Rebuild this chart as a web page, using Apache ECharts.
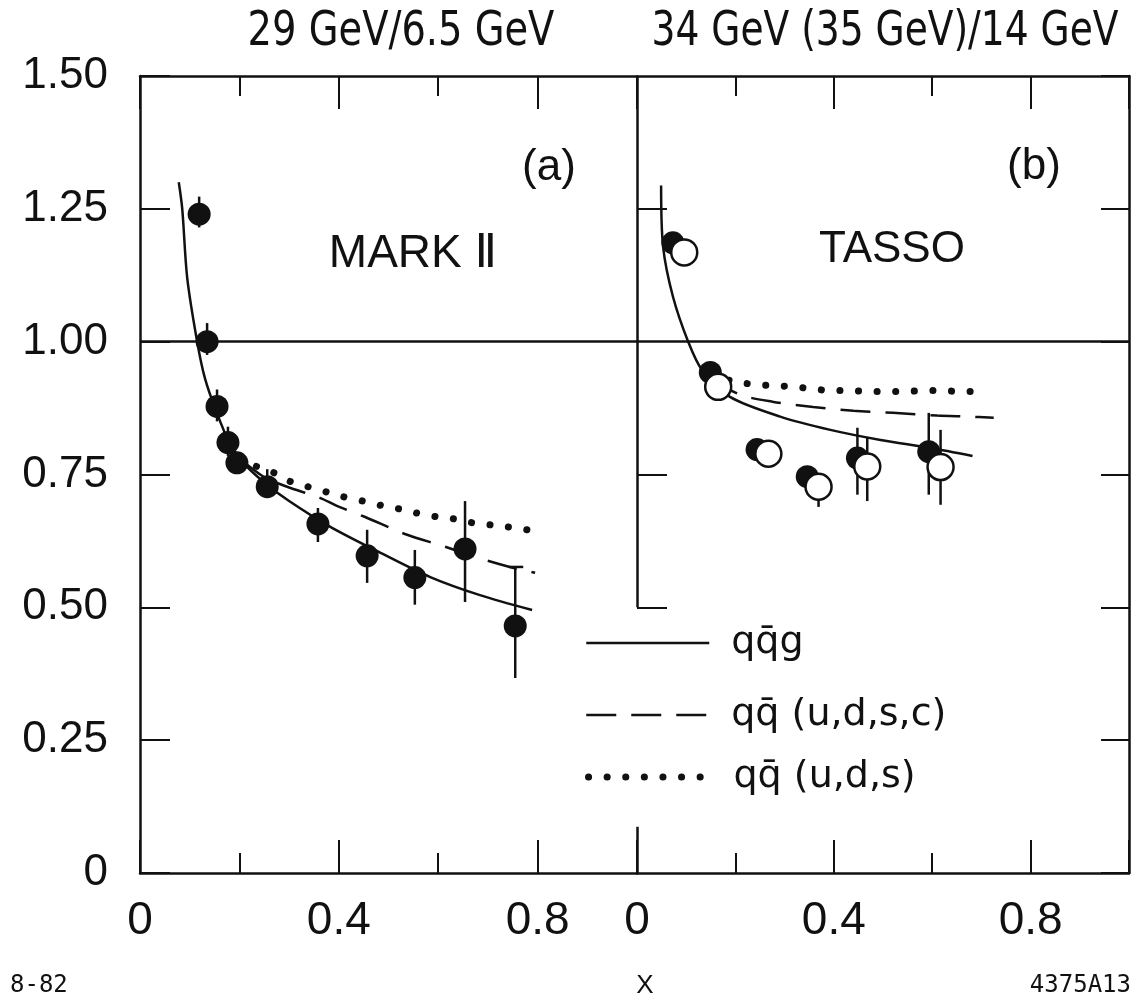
<!DOCTYPE html>
<html><head><meta charset="utf-8">
<script src="https://cdn.jsdelivr.net/npm/echarts@6/dist/echarts.min.js"></script>
<style>html,body{margin:0;padding:0;background:#fff}#c{width:1137px;height:1004px}</style>
</head><body><div id="c"></div>
<script>
// ---------- tick labels ----------
const yTickValues = [0, 0.25, 0.5, 0.75, 1.0, 1.25, 1.5];
const yTickLabels = ['0', '0.25', '0.50', '0.75', '1.00', '1.25', '1.50'];
const xTickValues = [0, 0.4, 0.8];
const xTickLabels = ['0', '0.4', '0.8'];
const dividerTickValues = [0.5, 0.75, 1.25];

// ---------- texts ----------
const panelTitles = ['29 GeV/6.5 GeV', '34 GeV (35 GeV)/14 GeV'];
const panelTags = ['(a)', '(b)'];
const experiments = ['MARK \u2161', 'TASSO'];
const legendNames = ['qq\u0304g', 'qq\u0304 (u,d,s,c)', 'qq\u0304 (u,d,s)'];

// ---------- MARK II (panel a) ----------
const markX  = [0.119, 0.135, 0.155, 0.177, 0.195, 0.256, 0.358, 0.457, 0.553, 0.654, 0.755];
const markY  = [1.24, 1.00, 0.878, 0.81, 0.772, 0.727, 0.657, 0.597, 0.556, 0.61, 0.465];
const markLo = [1.215, 0.975, 0.85, 0.785, 0.755, 0.71, 0.623, 0.546, 0.505, 0.51, 0.367];
const markHi = [1.273, 1.035, 0.91, 0.84, 0.79, 0.76, 0.687, 0.646, 0.608, 0.70, 0.576];
const markCap = [0, 0, 0, 0, 0, 0, 0, 0, 0, 0, 1];

const aQqgX = [0.078, 0.085, 0.095, 0.115, 0.131, 0.155, 0.18, 0.21, 0.25, 0.30, 0.382, 0.483, 0.584, 0.684, 0.789];
const aQqgY = [1.30, 1.25, 1.12, 1.00, 0.93, 0.865, 0.81, 0.77, 0.735, 0.70, 0.652, 0.603, 0.557, 0.523, 0.495];
const aUdscX = [0.20, 0.25, 0.296, 0.362, 0.396, 0.453, 0.533, 0.614, 0.674, 0.744, 0.795];
const aUdscY = [0.78, 0.745, 0.727, 0.706, 0.691, 0.67, 0.638, 0.614, 0.595, 0.576, 0.565];
const aUdsX = [0.20, 0.235, 0.27, 0.302, 0.338, 0.376, 0.41, 0.453, 0.489, 0.523, 0.559, 0.60, 0.636, 0.67, 0.708, 0.742, 0.779];
const aUdsY = [0.78, 0.765, 0.753, 0.737, 0.727, 0.717, 0.708, 0.699, 0.691, 0.685, 0.677, 0.67, 0.666, 0.659, 0.655, 0.651, 0.646];

// ---------- TASSO (panel b) ----------
const t34X  = [0.073, 0.149, 0.244, 0.346, 0.448, 0.593];
const t34Y  = [1.186, 0.942, 0.797, 0.746, 0.781, 0.793];
const t34Lo = [1.17, 0.925, 0.785, 0.73, 0.712, 0.712];
const t34Hi = [1.20, 0.955, 0.81, 0.76, 0.838, 0.866];
const t35X  = [0.096, 0.165, 0.267, 0.369, 0.468, 0.617];
const t35Y  = [1.168, 0.915, 0.789, 0.727, 0.765, 0.764];
const t35Lo = [1.15, 0.90, 0.775, 0.689, 0.70, 0.693];
const t35Hi = [1.185, 0.93, 0.805, 0.75, 0.819, 0.834];

const bQqgX = [0.049, 0.053, 0.073, 0.104, 0.132, 0.189, 0.291, 0.393, 0.495, 0.597, 0.682];
const bQqgY = [1.294, 1.179, 1.085, 1.00, 0.947, 0.896, 0.859, 0.834, 0.815, 0.80, 0.785];
const bUdscX = [0.15, 0.21, 0.275, 0.358, 0.44, 0.52, 0.61, 0.672, 0.725];
const bUdscY = [0.93, 0.90, 0.887, 0.877, 0.87, 0.866, 0.861, 0.859, 0.857];
const bUdsX = [0.15, 0.21, 0.246, 0.285, 0.32, 0.358, 0.395, 0.434, 0.47, 0.509, 0.546, 0.582, 0.621, 0.656, 0.695];
const bUdsY = [0.935, 0.923, 0.919, 0.917, 0.915, 0.911, 0.908, 0.908, 0.906, 0.906, 0.906, 0.908, 0.908, 0.906, 0.906];

// ---------- helpers ----------
const zip = (xs, ys) => xs.map((x, i) => [x, ys[i]]);
const zipErr = (xs, lo, hi, cap) => xs.map((x, i) => [x, lo[i], hi[i], cap ? cap[i] : 0]);
const BLACK = '#111';
const LW = 2.5;
const AXFONT = '"Liberation Sans", "DejaVu Sans", sans-serif';
const TXFONT = '"Liberation Sans", "DejaVu Sans", sans-serif';

function errRender(params, api) {
  const x = api.value(0), lo = api.value(1), hi = api.value(2), cap = api.value(3);
  const p1 = api.coord([x, lo]), p2 = api.coord([x, hi]);
  const children = [{ type: 'line', shape: { x1: p1[0], y1: p1[1], x2: p2[0], y2: p2[1] },
    style: { stroke: BLACK, lineWidth: LW } }];
  if (cap) children.push({ type: 'line', shape: { x1: p2[0] - 6, y1: p2[1], x2: p2[0] + 8, y2: p2[1] },
    style: { stroke: BLACK, lineWidth: LW } });
  return { type: 'group', children };
}

function xAxes(g) {
  const line = { show: true, onZero: false, lineStyle: { color: BLACK, width: LW } };
  const noLine = { show: false, onZero: false };
  const base = { gridIndex: g, type: 'value', min: 0, max: 1, splitLine: { show: false } };
  return [
    Object.assign({}, base, { position: 'bottom', interval: 0.4, axisLine: line,
      axisTick: { show: true, inside: true, length: 33, lineStyle: { color: BLACK, width: 2 } },
      axisLabel: { show: true, margin: 25, fontSize: 46, color: BLACK, fontFamily: AXFONT,
        formatter: v => { const i = xTickValues.findIndex(t => Math.abs(t - v) < 1e-6); return i >= 0 ? xTickLabels[i] : ''; } } }),
    Object.assign({}, base, { position: 'bottom', interval: 0.2, axisLine: noLine,
      axisTick: { show: true, inside: true, length: 20, lineStyle: { color: BLACK, width: 2 } },
      axisLabel: { show: false } }),
    Object.assign({}, base, { position: 'top', interval: 0.4, axisLine: line,
      axisTick: { show: true, inside: true, length: 33, lineStyle: { color: BLACK, width: 2 } },
      axisLabel: { show: false } }),
    Object.assign({}, base, { position: 'top', interval: 0.2, axisLine: noLine,
      axisTick: { show: true, inside: true, length: 20, lineStyle: { color: BLACK, width: 2 } },
      axisLabel: { show: false } })
  ];
}

const yBase = { type: 'value', min: 0, max: 1.5, interval: 0.25, splitLine: { show: false } };
const titleFont = '48px "Liberation Sans Narrow", "DejaVu Sans Condensed", "DejaVu Sans", sans-serif';

const option = {
  animation: false,
  backgroundColor: '#fff',
  grid: [
    { left: 140, top: 76, width: 497, height: 797, containLabel: false },
    { left: 637, top: 76, width: 492, height: 797, containLabel: false }
  ],
  xAxis: xAxes(0).concat(xAxes(1)),
  yAxis: [
    Object.assign({}, yBase, { gridIndex: 0, position: 'left',
      axisLine: { show: true, onZero: false, lineStyle: { color: BLACK, width: LW } },
      axisTick: { show: true, inside: true, length: 30, lineStyle: { color: BLACK, width: 2 } },
      axisLabel: { show: true, margin: 32, fontSize: 44, color: BLACK, fontFamily: AXFONT,
        formatter: v => { const i = yTickValues.findIndex(t => Math.abs(t - v) < 1e-6); return i >= 0 ? yTickLabels[i] : ''; } } }),
    Object.assign({}, yBase, { gridIndex: 1, position: 'right',
      axisLine: { show: true, onZero: false, lineStyle: { color: BLACK, width: LW } },
      axisTick: { show: true, inside: true, length: 28, lineStyle: { color: BLACK, width: 2 } },
      axisLabel: { show: false } }),
    Object.assign({}, yBase, { gridIndex: 1, position: 'left',
      axisLine: { show: false, onZero: false },
      axisTick: { show: true, inside: true, length: 30, customValues: dividerTickValues, lineStyle: { color: BLACK, width: 2 } },
      axisLabel: { show: false } })
  ],
  legend: legendNames.map((n, i) => ({
    data: [n], left: 585, top: [623, 695, 757][i], orient: 'horizontal', padding: 0,
    itemWidth: 123, itemHeight: 14, selectedMode: false,
    itemStyle: { opacity: 0, borderWidth: 0 },
    lineStyle: { width: i === 2 ? 7 : LW, color: BLACK },
    textStyle: { fontSize: 38, lineHeight: 40, color: BLACK, fontFamily: '"DejaVu Sans", sans-serif', padding: [0, 0, 0, 17] }
  })),
  graphic: [
    { type: 'text', x: 401, y: 33, scaleX: 0.89, style: { text: panelTitles[0], align: 'center', verticalAlign: 'middle', font: titleFont, fill: BLACK } },
    { type: 'text', x: 885, y: 33, scaleX: 0.87, style: { text: panelTitles[1], align: 'center', verticalAlign: 'middle', font: titleFont, fill: BLACK } },
    { type: 'text', x: 549, y: 168, style: { text: panelTags[0], align: 'center', verticalAlign: 'middle', font: '44px ' + TXFONT, fill: BLACK } },
    { type: 'text', x: 1034, y: 167, style: { text: panelTags[1], align: 'center', verticalAlign: 'middle', font: '44px ' + TXFONT, fill: BLACK } },
    { type: 'text', x: 413, y: 254, style: { text: experiments[0], align: 'center', verticalAlign: 'middle', font: '46px ' + TXFONT, fill: BLACK } },
    { type: 'text', x: 892, y: 250, style: { text: experiments[1], align: 'center', verticalAlign: 'middle', font: '44px ' + TXFONT, fill: BLACK } },
    { type: 'text', x: 10, y: 986, style: { text: '8-82', align: 'left', verticalAlign: 'middle', font: '24px "DejaVu Sans Mono", monospace', fill: BLACK } },
    { type: 'text', x: 645, y: 986, style: { text: 'X', align: 'center', verticalAlign: 'middle', font: '26px ' + TXFONT, fill: BLACK } },
    { type: 'text', x: 1131, y: 986, style: { text: '4375A13', align: 'right', verticalAlign: 'middle', font: '24px "DejaVu Sans Mono", monospace', fill: BLACK } }
  ],
  series: [
    // panel a
    { name: legendNames[0], type: 'line', xAxisIndex: 0, yAxisIndex: 0, data: zip(aQqgX, aQqgY), symbol: 'none', smooth: 0.3, z: 2,
      color: BLACK, lineStyle: { color: BLACK, width: LW },
      markLine: { silent: true, symbol: 'none', label: { show: false }, lineStyle: { color: BLACK, width: LW, type: 'solid' },
        data: [{ yAxis: 1 }] } },
    { name: legendNames[1], type: 'line', xAxisIndex: 0, yAxisIndex: 0, data: zip(aUdscX, aUdscY), symbol: 'none', smooth: 0.3, z: 2,
      color: BLACK, lineStyle: { color: BLACK, width: LW, type: [30, 15] } },
    { name: legendNames[2], type: 'line', xAxisIndex: 0, yAxisIndex: 0, data: zip(aUdsX, aUdsY), symbol: 'none', smooth: 0.3, z: 2,
      color: BLACK, lineStyle: { color: BLACK, width: 7, type: [0.1, 18.5], cap: 'round' } },
    { type: 'custom', xAxisIndex: 0, yAxisIndex: 0, data: zipErr(markX, markLo, markHi, markCap), renderItem: errRender,
      encode: { x: 0, y: [1, 2] }, z: 3, silent: true },
    { type: 'scatter', xAxisIndex: 0, yAxisIndex: 0, data: zip(markX, markY), symbol: 'circle', symbolSize: 23, z: 4,
      itemStyle: { color: BLACK, opacity: 1 } },
    // panel b
    { name: legendNames[0], type: 'line', xAxisIndex: 4, yAxisIndex: 1, data: zip(bQqgX, bQqgY), symbol: 'none', smooth: 0.3, z: 2,
      color: BLACK, lineStyle: { color: BLACK, width: LW },
      markLine: { silent: true, symbol: 'none', label: { show: false }, lineStyle: { color: BLACK, width: LW, type: 'solid' },
        data: [{ yAxis: 1 },
          [{ coord: [0, 0.5] }, { coord: [0, 1.5] }],
          [{ coord: [0, 0] }, { coord: [0, 0.087] }]] } },
    { name: legendNames[1], type: 'line', xAxisIndex: 4, yAxisIndex: 1, data: zip(bUdscX, bUdscY), symbol: 'none', smooth: 0.3, z: 2,
      color: BLACK, lineStyle: { color: BLACK, width: LW, type: [30, 15] } },
    { name: legendNames[2], type: 'line', xAxisIndex: 4, yAxisIndex: 1, data: zip(bUdsX, bUdsY), symbol: 'none', smooth: 0.3, z: 2,
      color: BLACK, lineStyle: { color: BLACK, width: 7, type: [0.1, 18.5], cap: 'round' } },
    { type: 'custom', xAxisIndex: 4, yAxisIndex: 1, data: zipErr(t34X, t34Lo, t34Hi), renderItem: errRender,
      encode: { x: 0, y: [1, 2] }, z: 3, silent: true },
    { type: 'scatter', xAxisIndex: 4, yAxisIndex: 1, data: zip(t34X, t34Y), symbol: 'circle', symbolSize: 23, z: 4,
      itemStyle: { color: BLACK, opacity: 1 } },
    { type: 'custom', xAxisIndex: 4, yAxisIndex: 1, data: zipErr(t35X, t35Lo, t35Hi), renderItem: errRender,
      encode: { x: 0, y: [1, 2] }, z: 5, silent: true },
    { type: 'scatter', xAxisIndex: 4, yAxisIndex: 1, data: zip(t35X, t35Y), symbol: 'circle', symbolSize: 26, z: 6,
      itemStyle: { color: '#fff', borderColor: BLACK, borderWidth: 2.5, opacity: 1 } }
  ]
};

const chart = echarts.init(document.getElementById('c'), null, { renderer: 'canvas' });
chart.setOption(option);
</script>
</body></html>
